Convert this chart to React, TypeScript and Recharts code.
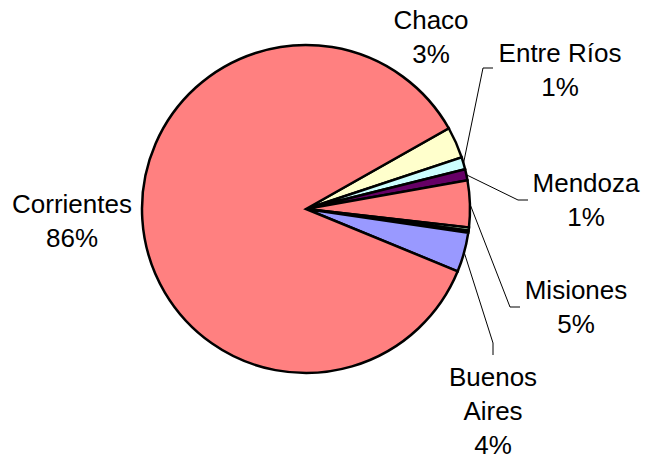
import React from 'react';
import { PieChart, Pie, Cell } from 'recharts';

// provinces, clockwise from the top-right edge of the big slice
const provinces = ['Chaco', 'Entre Ríos', 'Mendoza', 'Misiones', 'Otra A', 'Otra B', 'Buenos Aires', 'Corrientes'];
const shares = [3.1, 1.2, 1.1, 4.6, 0.3, 0.2, 3.9, 85.6];
const sliceColors = ['#FFFFCC', '#CCFFFF', '#660066', '#FF8080', '#CCFFCC', '#000000', '#9999FF', '#FF8080'];

const data = provinces.map((name, i) => ({ name, value: shares[i] }));

type LabelSpot = {
  lines: string[];
  x: number;
  y: number;
  elbow?: [number, number];
  end?: [number, number];
};

// hand-placed label boxes, as in the original sheet
const labelSpots: Record<string, LabelSpot> = {
  Chaco: { lines: ['Chaco'], x: 431, y: 20 },
  'Entre Ríos': { lines: ['Entre Ríos'], x: 560, y: 53, elbow: [483, 68], end: [493, 68] },
  Mendoza: { lines: ['Mendoza'], x: 586, y: 183, elbow: [518, 200], end: [528, 200] },
  Misiones: { lines: ['Misiones'], x: 576, y: 290, elbow: [510, 307], end: [520, 307] },
  'Buenos Aires': { lines: ['Buenos', 'Aires'], x: 493, y: 377, elbow: [493, 343], end: [493, 355] },
  Corrientes: { lines: ['Corrientes'], x: 72, y: 204 },
};

const LINE_H = 34;
const RAD = Math.PI / 180;

const renderLabel = (props: any) => {
  const { cx, cy, midAngle, outerRadius, percent, name } = props;
  const spot = labelSpots[name];
  if (!spot) return null;
  const lines = [...spot.lines, `${Math.round(percent * 100)}%`];
  const sx = cx + outerRadius * Math.cos(-midAngle * RAD);
  const sy = cy + outerRadius * Math.sin(-midAngle * RAD);
  return (
    <g>
      {spot.elbow && spot.end && (
        <polyline
          points={`${sx},${sy} ${spot.elbow[0]},${spot.elbow[1]} ${spot.end[0]},${spot.end[1]}`}
          fill="none"
          stroke="#000"
          strokeWidth={1}
        />
      )}
      {lines.map((t, i) => (
        <text
          key={i}
          x={spot.x}
          y={spot.y + i * LINE_H}
          textAnchor="middle"
          dominantBaseline="central"
          fill="#000"
          stroke="none"
          style={{ fontFamily: '"Liberation Sans", Arial, sans-serif', fontSize: 26 }}
        >
          {t}
        </text>
      ))}
    </g>
  );
};

export default function App() {
  return (
    <div style={{ position: 'absolute', left: 0, top: 0, width: 648, height: 459, background: '#fff' }}>
      <PieChart width={648} height={459} margin={{ top: 0, right: 0, bottom: 0, left: 0 }}>
        <Pie
          data={data}
          dataKey="value"
          nameKey="name"
          cx={306}
          cy={209}
          outerRadius={164}
          startAngle={29.5}
          endAngle={-330.5}
          stroke="#000"
          strokeWidth={2.5}
          label={renderLabel}
          labelLine={false}
          isAnimationActive={false}
        >
          {data.map((d, i) => (
            <Cell key={d.name} fill={sliceColors[i]} />
          ))}
        </Pie>
      </PieChart>
    </div>
  );
}
